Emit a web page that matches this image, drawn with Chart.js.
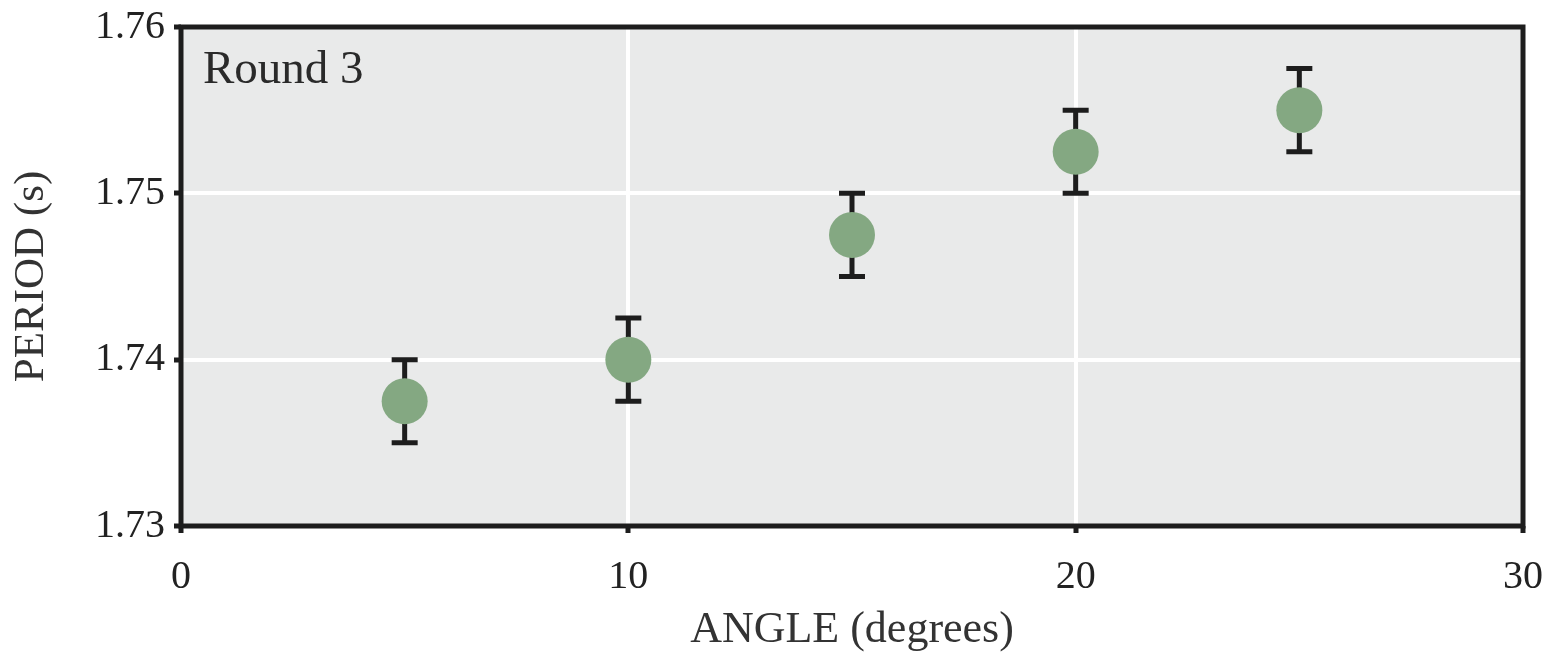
<!DOCTYPE html>
<html>
<head>
<meta charset="utf-8">
<script src="https://cdn.jsdelivr.net/npm/chart.js@4.4.1/dist/chart.umd.min.js"></script>
<style>
  html, body { margin: 0; padding: 0; background: #fff; }
  #wrap { width: 1557px; height: 653px; }
</style>
</head>
<body>
<div id="wrap"><canvas id="periodChart"></canvas></div>
<script>
// pendulum period vs. release angle, round 3
const angles = [5, 10, 15, 20, 25];
const periods = [1.7375, 1.74, 1.7475, 1.7525, 1.755];
const errors = [0.0025, 0.0025, 0.0025, 0.0025, 0.0025];
const xTicks = [0, 10, 20, 30];
const yTicks = [1.73, 1.74, 1.75, 1.76];

const serif = "'Liberation Serif', 'DejaVu Serif', serif";
const ink = "#1d1d1d";

// grey panel behind the grid
const panelBg = {
  id: "panelBg",
  beforeDraw(chart) {
    const { ctx, chartArea: a } = chart;
    ctx.save();
    ctx.fillStyle = "#e9eaea";
    ctx.fillRect(a.left, a.top, a.right - a.left, a.bottom - a.top);
    ctx.restore();
  },
};

// vertical error bars with caps, drawn under the markers
const errorBars = {
  id: "errorBars",
  beforeDatasetsDraw(chart) {
    const { ctx, scales: { x, y } } = chart;
    ctx.save();
    ctx.strokeStyle = ink;
    ctx.lineWidth = 5;
    ctx.lineCap = "butt";
    angles.forEach((a, i) => {
      const px = x.getPixelForValue(a);
      const top = y.getPixelForValue(periods[i] + errors[i]);
      const bot = y.getPixelForValue(periods[i] - errors[i]);
      ctx.beginPath();
      ctx.moveTo(px, top);
      ctx.lineTo(px, bot);
      ctx.moveTo(px - 13, top);
      ctx.lineTo(px + 13, top);
      ctx.moveTo(px - 13, bot);
      ctx.lineTo(px + 13, bot);
      ctx.stroke();
    });
    ctx.restore();
  },
};

// frame around the plot and the panel label
const frame = {
  id: "frame",
  afterDraw(chart) {
    const { ctx, chartArea: a } = chart;
    ctx.save();
    ctx.strokeStyle = ink;
    ctx.lineWidth = 5;
    ctx.strokeRect(a.left, a.top, a.right - a.left, a.bottom - a.top);
    ctx.fillStyle = "#2a2a2a";
    ctx.font = "47px " + serif;
    ctx.textBaseline = "alphabetic";
    ctx.fillText("Round 3", a.left + 22, a.top + 56);
    ctx.restore();
  },
};

new Chart(document.getElementById("periodChart"), {
  type: "scatter",
  data: {
    datasets: [
      {
        label: "Round 3",
        data: angles.map((a, i) => ({ x: a, y: periods[i] })),
        backgroundColor: "#84a882",
        borderWidth: 0,
        pointRadius: 23,
        pointHoverRadius: 23,
      },
    ],
  },
  options: {
    responsive: true,
    maintainAspectRatio: false,
    animation: false,
    events: [],
    layout: { padding: { top: 27, right: 34, left: 0, bottom: 0 } },
    plugins: {
      legend: { display: false },
      tooltip: { enabled: false },
    },
    scales: {
      x: {
        type: "linear",
        min: 0,
        max: 30,
        afterBuildTicks: (s) => { s.ticks = xTicks.map((v) => ({ value: v })); },
        afterFit: (s) => {
          s.height = 127;
          s.paddingLeft = 0;
          s.paddingRight = 0;
        },
        border: { display: false },
        grid: { color: "#ffffff", lineWidth: 4, tickColor: ink, tickWidth: 5, tickLength: 7 },
        ticks: { color: "#222", padding: 20, font: { family: serif, size: 40 } },
        title: {
          display: true,
          text: "ANGLE (degrees)",
          color: "#333",
          padding: { top: 0, bottom: -4 },
          font: { family: serif, size: 44 },
        },
      },
      y: {
        type: "linear",
        min: 1.73,
        max: 1.76,
        afterBuildTicks: (s) => { s.ticks = yTicks.map((v) => ({ value: v })); },
        afterFit: (s) => {
          s.width = 181;
          s.paddingTop = 0;
          s.paddingBottom = 0;
        },
        border: { display: false },
        grid: { color: "#ffffff", lineWidth: 4, tickColor: ink, tickWidth: 5, tickLength: 7 },
        ticks: {
          color: "#222",
          padding: 9,
          font: { family: serif, size: 40 },
          callback: (v) => v.toFixed(2),
        },
        title: {
          display: true,
          text: "PERIOD (s)",
          color: "#333",
          padding: { top: 6, bottom: 0 },
          font: { family: serif, size: 43 },
        },
      },
    },
  },
  plugins: [panelBg, errorBars, frame],
});
</script>
</body>
</html>
